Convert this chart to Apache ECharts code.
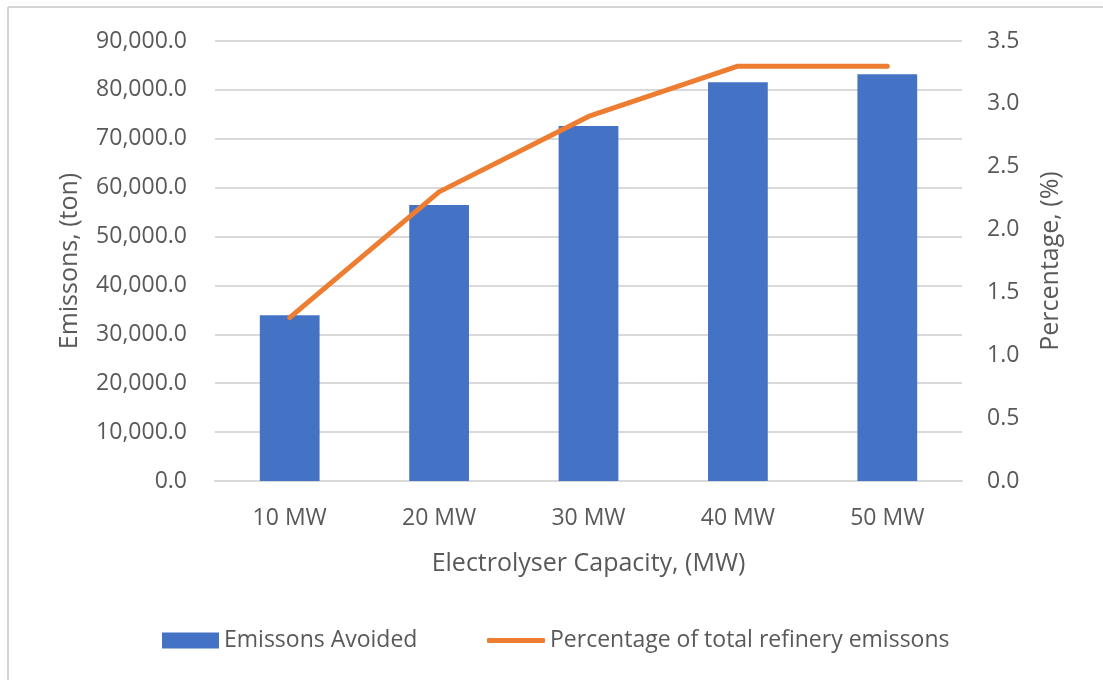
<!DOCTYPE html>
<html>
<head>
<meta charset="utf-8">
<script src="https://cdn.jsdelivr.net/npm/echarts@6/dist/echarts.min.js"></script>
<style>
  html, body { margin: 0; padding: 0; background: #fff; }
  #chart { width: 1103px; height: 680px; }
</style>
</head>
<body>
<div id="chart"></div>
<script>
// Electrolyser capacities on the category axis
const categories = ['10 MW', '20 MW', '30 MW', '40 MW', '50 MW'];
// Emissions avoided per capacity, tonnes
const emissionsAvoided = [33900, 56450, 72600, 81550, 83200];
// Share of total refinery emissions, percent
const refineryShare = [1.3, 2.3, 2.9, 3.3, 3.3];

const seriesNames = ['Emissons Avoided', 'Percentage of total refinery emissons'];

const textColor = '#595959';
const fontFamily = '"Open Sans", Lato, sans-serif';
const barColor = '#4472C4';
const lineColor = '#ED7D31';

const chart = echarts.init(document.getElementById('chart'), null, { renderer: 'canvas' });

const legendText = { fontSize: 23, color: textColor, fontFamily: fontFamily };

chart.setOption({
  backgroundColor: '#ffffff',
  animation: false,
  textStyle: { fontFamily: fontFamily, color: textColor },
  graphic: [
    { type: 'line', shape: { x1: 8, y1: 7, x2: 1103, y2: 7 }, style: { stroke: '#d4d4d4', lineWidth: 2 } },
    { type: 'line', shape: { x1: 8, y1: 7, x2: 8, y2: 680 }, style: { stroke: '#d4d4d4', lineWidth: 2 } }
  ],
  grid: { left: 215, right: 141, top: 41, bottom: 199 },
  legend: [
    {
      left: 157,
      top: 624,
      itemWidth: 57,
      itemHeight: 16,
      textStyle: legendText,
      data: [{ name: seriesNames[0], icon: 'rect' }]
    },
    {
      left: 482,
      top: 624,
      itemWidth: 58,
      itemHeight: 5,
      textStyle: legendText,
      data: [{ name: seriesNames[1], icon: 'roundRect', itemStyle: { color: lineColor } }]
    }
  ],
  xAxis: {
    type: 'category',
    data: categories,
    name: 'Electrolyser Capacity, (MW)',
    nameLocation: 'middle',
    nameGap: 70,
    nameTextStyle: { fontSize: 25, color: textColor },
    axisLine: { show: true, lineStyle: { color: '#d9d9d9', width: 2 } },
    axisTick: { show: false },
    axisLabel: { fontSize: 23, color: textColor, margin: 26 }
  },
  yAxis: [
    {
      type: 'value',
      min: 0,
      max: 90000,
      interval: 10000,
      name: 'Emissons, (ton)',
      nameLocation: 'middle',
      nameGap: 133,
      nameTextStyle: { fontSize: 25, color: textColor },
      axisLine: { show: false },
      axisTick: { show: false },
      axisLabel: {
        fontSize: 23,
        color: textColor,
        margin: 28,
        formatter: v => v.toLocaleString('en-US', { minimumFractionDigits: 1, maximumFractionDigits: 1 })
      },
      splitLine: { lineStyle: { color: '#d9d9d9', width: 2 } }
    },
    {
      type: 'value',
      min: 0,
      max: 3.5,
      interval: 0.5,
      name: 'Percentage, (%)',
      nameLocation: 'middle',
      nameGap: 76,
      nameTextStyle: { fontSize: 25, color: textColor },
      axisLine: { show: false },
      axisTick: { show: false },
      axisLabel: {
        fontSize: 23,
        color: textColor,
        margin: 25,
        formatter: v => v.toFixed(1)
      },
      splitLine: { show: false }
    }
  ],
  series: [
    {
      name: seriesNames[0],
      type: 'bar',
      data: emissionsAvoided,
      yAxisIndex: 0,
      barWidth: '40%',
      itemStyle: { color: barColor }
    },
    {
      name: seriesNames[1],
      type: 'line',
      data: refineryShare,
      yAxisIndex: 1,
      symbol: 'none',
      lineStyle: { color: lineColor, width: 5, cap: 'round', join: 'round' },
      itemStyle: { color: lineColor }
    }
  ]
});
</script>
</body>
</html>
